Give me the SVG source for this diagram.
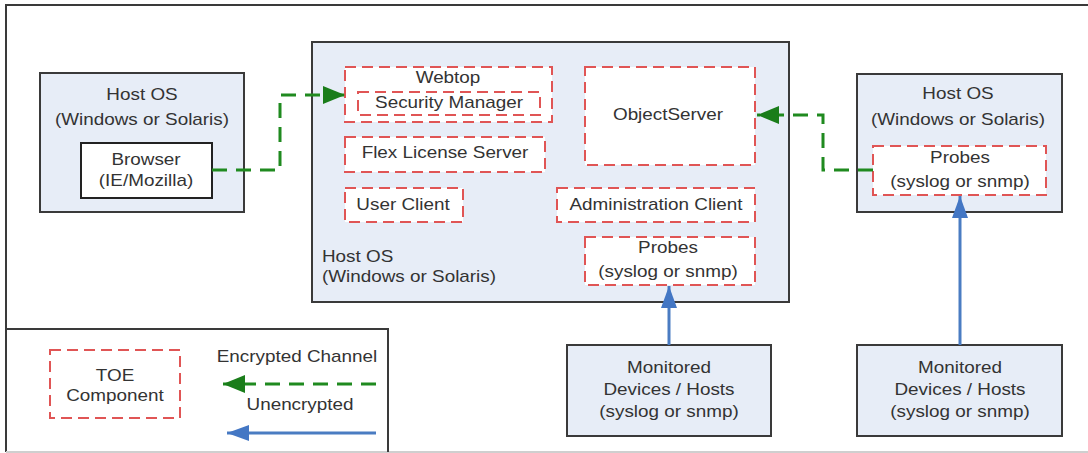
<svg xmlns="http://www.w3.org/2000/svg" width="1088" height="453" viewBox="0 0 1088 453">
<defs>
<style>
.host{fill:#e7edf7;stroke:#3a3a3a;stroke-width:2}
.white{fill:#ffffff;stroke:#222;stroke-width:2}
.toe{fill:#ffffff;stroke:#e05555;stroke-width:2;stroke-dasharray:11 6}
.t{font-family:"Liberation Sans",Arial,sans-serif;font-size:16px;fill:#333;text-anchor:middle}
.l{text-anchor:start}
.enc{fill:none;stroke:#1f8a1f;stroke-width:3;stroke-dasharray:15 9}
.unenc{fill:none;stroke:#4a7cc2;stroke-width:3}
</style>
<marker id="ag" markerUnits="userSpaceOnUse" markerWidth="24" markerHeight="18" refX="22" refY="9" orient="auto">
<path d="M0,0 L22,9 L0,18 z" fill="#1a7d1a"/>
</marker>
<marker id="ab" markerUnits="userSpaceOnUse" markerWidth="24" markerHeight="18" refX="22" refY="9" orient="auto">
<path d="M0,1 L22,9 L0,17 z" fill="#4477c4"/>
</marker>
</defs>
<rect x="0" y="0" width="1088" height="453" fill="#ffffff"/>
<path d="M6,452 V5 H1092" fill="none" stroke="#3a3a3a" stroke-width="2"/>
<line x1="6" y1="452" x2="1088" y2="452" stroke="#cfcfcf" stroke-width="2"/>

<g id="legend">
<path d="M6,329 H388 V452" fill="none" stroke="#3a3a3a" stroke-width="2"/>
<rect class="toe" x="50" y="350" width="130" height="68"/>
<text class="t" transform="translate(115,381) scale(1.18,1)">TOE</text>
<text class="t" transform="translate(115,401) scale(1.18,1)">Component</text>
<text class="t" transform="translate(297,362) scale(1.18,1)">Encrypted Channel</text>
<text class="t" transform="translate(300,410) scale(1.18,1)">Unencrypted</text>
<path class="enc" d="M376,384 H223" marker-end="url(#ag)"/>
<path class="unenc" d="M376,433 H227" marker-end="url(#ab)"/>
</g>

<g id="left-host">
<rect class="host" x="40" y="73" width="204" height="139"/>
<text class="t" transform="translate(142,100) scale(1.18,1)">Host OS</text>
<text class="t" transform="translate(142,125) scale(1.18,1)">(Windows or Solaris)</text>
</g>
<g id="browser">
<rect class="white" x="81" y="143" width="131" height="55"/>
<text class="t" transform="translate(146,165) scale(1.18,1)">Browser</text>
<text class="t" transform="translate(146,186) scale(1.18,1)">(IE/Mozilla)</text>
</g>

<g id="central-host">
<rect class="host" x="312" y="42" width="477" height="260"/>
<text class="t l" transform="translate(322,262) scale(1.18,1)">Host OS</text>
<text class="t l" transform="translate(322,282) scale(1.18,1)">(Windows or Solaris)</text>
</g>
<g id="webtop">
<rect class="toe" x="345" y="67" width="207" height="55"/>
<text class="t" transform="translate(448,83) scale(1.18,1)">Webtop</text>
</g>
<g id="security-manager">
<rect class="toe" x="358" y="92" width="182" height="23"/>
<text class="t" transform="translate(449,108) scale(1.18,1)">Security Manager</text>
</g>
<g id="flex-license-server">
<rect class="toe" x="345" y="137" width="200" height="35"/>
<text class="t" transform="translate(445,158) scale(1.18,1)">Flex License Server</text>
</g>
<g id="user-client">
<rect class="toe" x="345" y="188" width="118" height="34"/>
<text class="t" transform="translate(403,210) scale(1.18,1)">User Client</text>
</g>
<g id="objectserver">
<rect class="toe" x="585" y="67" width="170" height="98"/>
<text class="t" transform="translate(668,120) scale(1.18,1)">ObjectServer</text>
</g>
<g id="administration-client">
<rect class="toe" x="557" y="188" width="198" height="34"/>
<text class="t" transform="translate(656,210) scale(1.18,1)">Administration Client</text>
</g>
<g id="probes-central">
<rect class="toe" x="585" y="237" width="170" height="48"/>
<text class="t" transform="translate(668,253) scale(1.18,1)">Probes</text>
<text class="t" transform="translate(668,277) scale(1.18,1)">(syslog or snmp)</text>
</g>

<g id="right-host">
<rect class="host" x="857" y="74" width="205" height="138"/>
<text class="t" transform="translate(958,99) scale(1.18,1)">Host OS</text>
<text class="t" transform="translate(958,125) scale(1.18,1)">(Windows or Solaris)</text>
</g>
<g id="probes-right">
<rect class="toe" x="873" y="146" width="173" height="49"/>
<text class="t" transform="translate(960,163) scale(1.18,1)">Probes</text>
<text class="t" transform="translate(960,187) scale(1.18,1)">(syslog or snmp)</text>
</g>

<g id="monitored-left">
<rect class="host" x="567" y="345" width="204" height="91"/>
<text class="t" transform="translate(669,373) scale(1.18,1)">Monitored</text>
<text class="t" transform="translate(669,395) scale(1.18,1)">Devices / Hosts</text>
<text class="t" transform="translate(669,417) scale(1.18,1)">(syslog or snmp)</text>
</g>
<g id="monitored-right">
<rect class="host" x="857" y="345" width="205" height="91"/>
<text class="t" transform="translate(960,373) scale(1.18,1)">Monitored</text>
<text class="t" transform="translate(960,395) scale(1.18,1)">Devices / Hosts</text>
<text class="t" transform="translate(960,417) scale(1.18,1)">(syslog or snmp)</text>
</g>

<g id="connectors">
<path class="enc" d="M212,170 H280 V95 H345" marker-end="url(#ag)"/>
<path class="enc" d="M873,170 H823 V115 H757" marker-end="url(#ag)"/>
<path class="unenc" d="M669,345 V286" marker-end="url(#ab)"/>
<path class="unenc" d="M960,345 V196" marker-end="url(#ab)"/>
</g>
</svg>
